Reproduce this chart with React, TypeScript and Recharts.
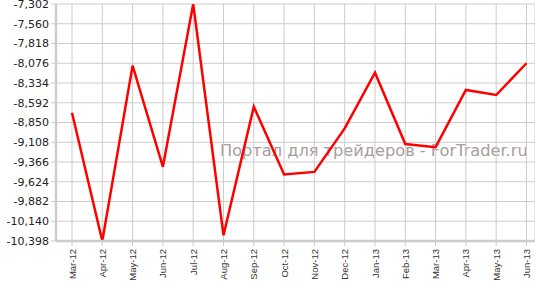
import React from "react";
import { LineChart, Line, XAxis, YAxis, CartesianGrid } from "recharts";

const months = [
  "Mar-12", "Apr-12", "May-12", "Jun-12", "Jul-12", "Aug-12", "Sep-12", "Oct-12",
  "Nov-12", "Dec-12", "Jan-13", "Feb-13", "Mar-13", "Apr-13", "May-13", "Jun-13",
];
const values = [
  -8723, -10398, -8107, -9429, -7302, -10324, -8644, -9529,
  -9495, -8927, -8199, -9132, -9172, -8425, -8491, -8076,
];
const yTicks = [
  -10398, -10140, -9882, -9624, -9366, -9108, -8850, -8592, -8334, -8076, -7818, -7560, -7302,
];
const watermark = "Портал для трейдеров - ForTrader.ru";

const data = months.map((m, i) => ({ month: m, value: values[i] }));

const fmt = (v: number) => v.toLocaleString("en-US");

const XTick = (props: any) => {
  const { x, y, payload } = props;
  return (
    <text
      x={x}
      y={y}
      transform={`rotate(-90, ${x}, ${y})`}
      textAnchor="end"
      dominantBaseline="central"
      fontSize={9.5}
      fontFamily="'Liberation Sans', Arial, sans-serif"
      fill="#333"
    >
      {payload.value}
    </text>
  );
};

export default function App() {
  return (
    <div style={{ position: "absolute", left: 0, top: 0, width: 535, height: 285, background: "#fff" }}>
      <div
        style={{
          position: "absolute",
          left: 220,
          top: 141,
          fontFamily: "'DejaVu Sans', sans-serif",
          fontSize: 16.2,
          lineHeight: "20px",
          color: "#a89c9c",
          whiteSpace: "nowrap",
        }}
      >
        {watermark}
      </div>
      <div style={{ position: "absolute", left: 0, top: 0 }}>
        <LineChart width={535} height={285} data={data} margin={{ top: 4, right: 0, bottom: 0, left: 0 }}>
          <CartesianGrid stroke="#cccccc" strokeWidth={1} />
          <XAxis
            dataKey="month"
            interval={0}
            height={44}
            padding={{ left: 16, right: 8.5 }}
            tickSize={5}
            tickMargin={3}
            tick={<XTick />}
            axisLine={{ stroke: "#cccccc", strokeWidth: 2.5 }}
            tickLine={{ stroke: "#cccccc" }}
          />
          <YAxis
            width={56}
            domain={[-10398, -7302]}
            ticks={yTicks}
            interval={0}
            tickFormatter={fmt}
            tickSize={5}
            tickMargin={2}
            tick={{ fontSize: 11, fontFamily: "'DejaVu Sans', Verdana, sans-serif", fill: "#222" }}
            axisLine={{ stroke: "#cccccc", strokeWidth: 2.5 }}
            tickLine={{ stroke: "#cccccc" }}
            allowDataOverflow
          />
          <Line
            type="linear"
            dataKey="value"
            stroke="#ff0000"
            strokeWidth={2.5}
            dot={false}
            isAnimationActive={false}
          />
        </LineChart>
      </div>
    </div>
  );
}
